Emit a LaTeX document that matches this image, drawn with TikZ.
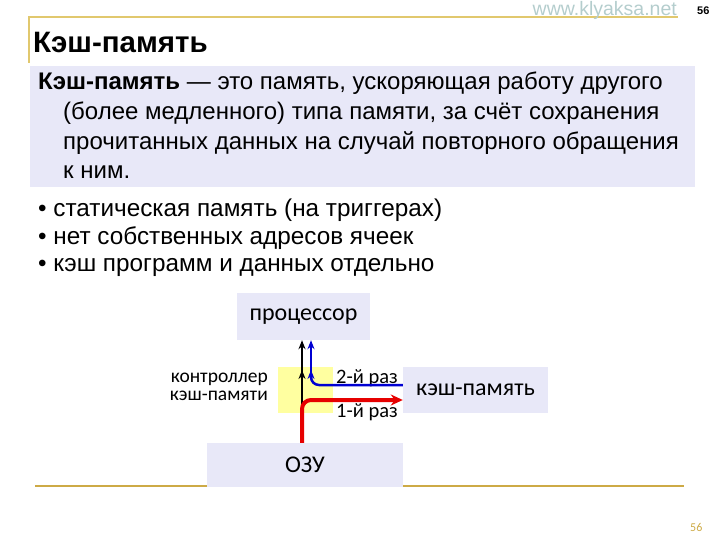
\documentclass[tikz,border=0pt]{standalone}
\usepackage{fontspec}
\setmainfont{Liberation Sans}
\newfontfamily\calib{Carlito}
\usetikzlibrary{arrows.meta}
\definecolor{lav}{RGB}{232,232,248}
\definecolor{gold}{RGB}{205,170,70}
\definecolor{palegold}{RGB}{225,200,110}
\definecolor{webc}{RGB}{180,205,205}
\definecolor{ylw}{RGB}{255,255,160}
\definecolor{rd}{RGB}{230,0,0}
\definecolor{bl}{RGB}{0,0,210}
\tikzset{
  px/.style={x=1pt,y=-1pt},
  lbox/.style={fill=lav,draw=none},
  body/.style={anchor=base west,inner sep=0pt,font=\fontsize{24}{28}\selectfont},
  blt/.style={anchor=base west,inner sep=0pt,font=\fontsize{24.3}{28}\selectfont},
  dlab/.style={inner sep=0pt,font=\calib\fontsize{20.5}{24}\selectfont},
  bigl/.style={font=\calib\fontsize{24}{28}\selectfont},
}
\begin{document}
\begin{tikzpicture}[px]
\useasboundingbox (0,0) rectangle (720,540);
% header
\draw[palegold,line width=1.2pt] (29,63) -- (29,17) -- (678,17);
\node[anchor=base east,inner sep=0pt,text=webc,font=\fontsize{19.5}{22}\selectfont] (web) at (677,15.5) {www.klyaksa.net};
\node[anchor=base west,inner sep=0pt,font=\bfseries\fontsize{11}{13}\selectfont] (pg) at (697,15) {56};
\node[anchor=base west,inner sep=0pt,font=\bfseries\fontsize{29.5}{33}\selectfont] (title) at (33,53) {Кэш-память};
% definition box
\fill[lav] (30,66) rectangle (695,187);
\node[body] (d1) at (38,90) {\textbf{Кэш-память} — это память, ускоряющая работу другого};
\node[body] (d2) at (63,120) {(более медленного) типа памяти, за счёт сохранения};
\node[body] (d3) at (63,150) {прочитанных данных на случай повторного обращения};
\node[body] (d4) at (63,179) {к ним.};
% bullets
\node[blt] (b1) at (38,217) {• статическая память (на триггерах)};
\node[blt] (b2) at (38,244) {• нет собственных адресов ячеек};
\node[blt] (b3) at (38,271) {• кэш программ и данных отдельно};
% bottom line
\draw[gold,line width=2pt] (35,486) -- (684,486);
\node[anchor=base west,inner sep=0pt,text=gold,font=\calib\fontsize{12}{14}\selectfont] (pg2) at (690,531) {56};
% diagram
\node[lbox,minimum width=133pt,minimum height=47pt,bigl] (cpu) at (303.5,316.5) {процессор};
\node[fill=ylw,minimum width=55pt,minimum height=46pt,inner sep=0pt] (ctl) at (305.5,390) {};
\node[lbox,minimum width=145pt,minimum height=46pt,bigl] (cache) at (475.5,390) {кэш-память};
\node[lbox,minimum width=196pt,minimum height=44pt,bigl] (ram) at (305,465) {ОЗУ};
\node[dlab,align=right,anchor=east,font=\calib\fontsize{19.5}{18}\selectfont] (ctllab) at (268,387) {контроллер\\кэш-памяти};
\node[dlab,anchor=base west] (l2) at (336,383) {2-й раз};
\node[dlab,anchor=base west] (l1) at (336,417) {1-й раз};
\coordinate (rs) at (ram.north -| 302,0);
\coordinate (bs) at (cache.west |- 0,385);
% arrows
\draw[line width=2pt,-{Stealth[length=9pt,width=7pt]}] (302,408) -- (302,370);
\draw[line width=2pt,-{Stealth[length=9pt,width=7pt]}] (302,372) -- (cpu.south -| 302,0);
\draw[bl,line width=2.5pt,rounded corners=8pt,-{Stealth[length=9pt,width=7pt]}] (bs) -- (311,385) -- (311,370);
\draw[bl,line width=2.5pt,-{Stealth[length=9pt,width=7pt]}] (311,372) -- (cpu.south -| 311,0);
\draw[rd,line width=4pt,rounded corners=9pt,-{Stealth[length=12pt,width=11pt]}] (rs) -- (302,400) -- (cache.west |- 0,400);
\end{tikzpicture}
\end{document}
